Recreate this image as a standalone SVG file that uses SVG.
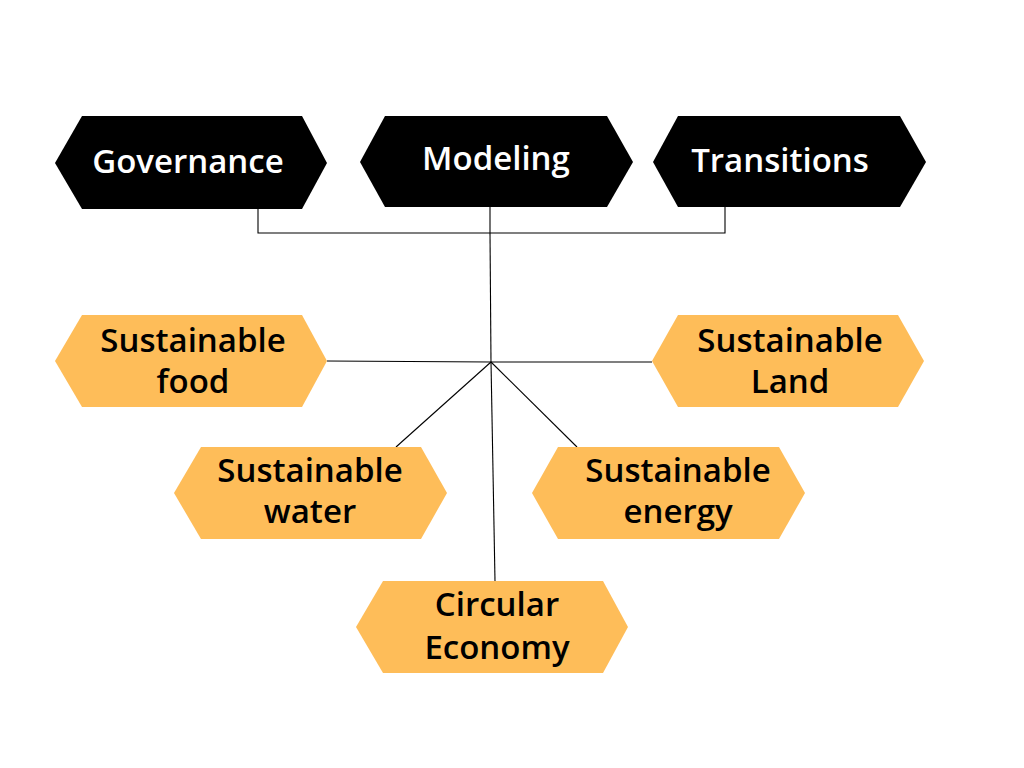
<svg xmlns="http://www.w3.org/2000/svg" width="1024" height="768" viewBox="0 0 1024 768">
<style>
.dark{fill:#000000}
.orange{fill:#FEBD59}
.lbl{font-family:"Open Sans","Noto Sans","Liberation Sans",sans-serif;font-weight:600;font-size:33px;text-anchor:middle}
.w{fill:#FFFFFF}
.b{fill:#000000}
.conn{stroke:#000000;stroke-width:1.1;fill:none}
</style>
<rect width="1024" height="768" fill="#FFFFFF"/>
<g id="connectors">
<polyline class="conn" points="258,209 258,233 725,233 725,207"/>
<line class="conn" x1="490" y1="207" x2="490" y2="233"/>
<line class="conn" x1="490" y1="233" x2="491" y2="362"/>
<line class="conn" x1="327" y1="361" x2="491" y2="362"/>
<line class="conn" x1="491" y1="362" x2="652" y2="362"/>
<line class="conn" x1="491" y1="362" x2="396" y2="447"/>
<line class="conn" x1="491" y1="362" x2="577" y2="447"/>
<line class="conn" x1="491" y1="362" x2="495" y2="581"/>
</g>
<g id="governance">
<polygon class="dark" points="55,163 82,116 302,116 327,163 302,209 82,209"/>
<text class="lbl w" x="188" y="173">Governance</text>
</g>
<g id="modeling">
<polygon class="dark" points="360,162 385,116 607,116 633,162 607,207 385,207"/>
<text class="lbl w" x="496" y="170">Modeling</text>
</g>
<g id="transitions">
<polygon class="dark" points="653,162 678,116 900,116 926,162 900,207 678,207"/>
<text class="lbl w" x="780" y="172">Transitions</text>
</g>
<g id="sustainable-food">
<polygon class="orange" points="55,361 82,315 302,315 327,361 302,407 82,407"/>
<text class="lbl b" x="193" y="352">Sustainable</text>
<text class="lbl b" x="193" y="393">food</text>
</g>
<g id="sustainable-land">
<polygon class="orange" points="652,361 678,315 898,315 924,361 898,407 678,407"/>
<text class="lbl b" x="790" y="352">Sustainable</text>
<text class="lbl b" x="790" y="393">Land</text>
</g>
<g id="sustainable-water">
<polygon class="orange" points="174,493 201,447 421,447 447,493 421,539 201,539"/>
<text class="lbl b" x="310" y="482">Sustainable</text>
<text class="lbl b" x="310" y="523">water</text>
</g>
<g id="sustainable-energy">
<polygon class="orange" points="532,493 558,447 779,447 805,493 779,539 558,539"/>
<text class="lbl b" x="678" y="482">Sustainable</text>
<text class="lbl b" x="678" y="523">energy</text>
</g>
<g id="circular-economy">
<polygon class="orange" points="356,627 383,581 603,581 628,627 603,673 383,673"/>
<text class="lbl b" x="497" y="616">Circular</text>
<text class="lbl b" x="497" y="659">Economy</text>
</g>
</svg>
